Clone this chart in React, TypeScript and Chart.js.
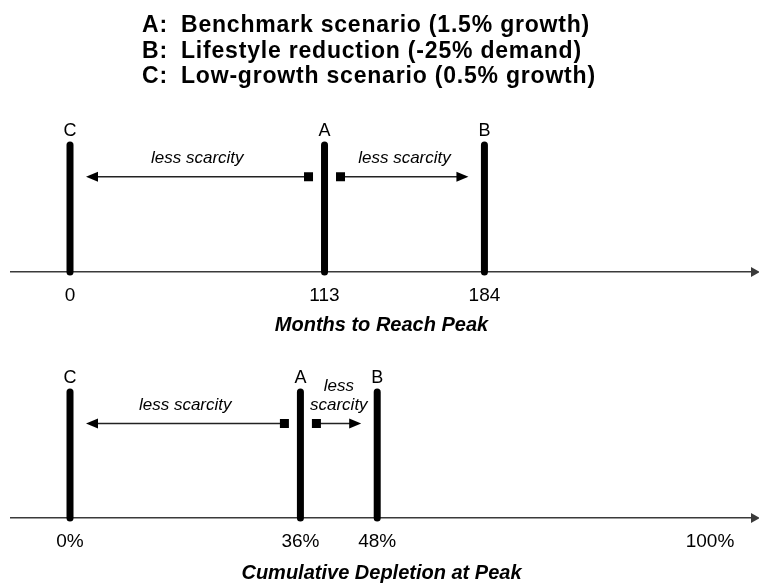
import React, { useEffect, useRef } from 'react';
import { Chart, registerables } from 'chart.js';

Chart.register(...registerables);

// ---------- data ----------
const scenarioLetters = ['C', 'A', 'B'];
const monthsToPeak = [0, 113, 184];
const depletionAtPeak = [0, 36, 48];
const monthsTickValues = [0, 113, 184];
const monthsTickLabels = ['0', '113', '184'];
const depletionTickValues = [0, 36, 48, 100];
const depletionTickLabels = ['0%', '36%', '48%', '100%'];
const legendKeys = ['A:', 'B:', 'C:'];
const legendTexts = [
  'Benchmark scenario (1.5% growth)',
  'Lifestyle reduction (-25% demand)',
  'Low-growth scenario (0.5% growth)',
];
const arrowFrom = 'A';
const arrowTargets = ['C', 'B'];
const arrowText = 'less scarcity';
const monthsTitle = 'Months to Reach Peak';
const depletionTitle = 'Cumulative Depletion at Peak';

// ---------- style ----------
const FONT = '"Liberation Sans", Arial, Helvetica, sans-serif';
const AXIS_COLOR = '#3a3a3a';
const W = 759;

type PanelCfg = {
  values: number[];
  tickValues: number[];
  tickLabels: string[];
  title: string;
  top: number;
  height: number;
  padTop: number;
  axisHeight: number;
  xMin: number;
  xMax: number;
  tickPadding: number;
  titlePadBottom: number;
  header: boolean;
};

const panels: PanelCfg[] = [
  {
    values: monthsToPeak,
    tickValues: monthsTickValues,
    tickLabels: monthsTickLabels,
    title: monthsTitle,
    top: 0,
    height: 335,
    padTop: 145,
    axisHeight: 63,
    xMin: -26.2,
    xMax: 302.8,
    tickPadding: 12,
    titlePadBottom: 0,
    header: true,
  },
  {
    values: depletionAtPeak,
    tickValues: depletionTickValues,
    tickLabels: depletionTickLabels,
    title: depletionTitle,
    top: 335,
    height: 250,
    padTop: 57,
    axisHeight: 67,
    xMin: -9.22,
    xMax: 106.56,
    tickPadding: 12,
    titlePadBottom: 2,
    header: false,
  },
];

function makePlugin(cfg: PanelCfg) {
  return {
    id: 'schematicOverlay',
    afterDatasetsDraw(chart: any) {
      const ctx: CanvasRenderingContext2D = chart.ctx;
      const xs = chart.scales.x;
      const ys = chart.scales.y;
      const area = chart.chartArea;
      ctx.save();

      // arrowhead at the right end of the axis
      const ay = area.bottom;
      ctx.fillStyle = AXIS_COLOR;
      ctx.beginPath();
      ctx.moveTo(area.right - 1, ay - 5);
      ctx.lineTo(area.right + 8, ay);
      ctx.lineTo(area.right - 1, ay + 5);
      ctx.closePath();
      ctx.fill();

      // scenario letters above bars
      ctx.fillStyle = '#000';
      ctx.font = `18px ${FONT}`;
      ctx.textAlign = 'center';
      ctx.textBaseline = 'alphabetic';
      cfg.values.forEach((v, i) => {
        ctx.fillText(scenarioLetters[i], xs.getPixelForValue(v), area.top - 9);
      });

      // "less scarcity" arrows
      const arrowY = ys.getPixelForValue(0.75);
      const fromPx = xs.getPixelForValue(cfg.values[scenarioLetters.indexOf(arrowFrom)]);
      arrowTargets.forEach((t) => {
        const toPx = xs.getPixelForValue(cfg.values[scenarioLetters.indexOf(t)]);
        const dir = Math.sign(toPx - fromPx);
        const start = fromPx + dir * 16;
        const tip = toPx - dir * 16;
        ctx.strokeStyle = '#222';
        ctx.lineWidth = 1.5;
        ctx.beginPath();
        ctx.moveTo(start, arrowY);
        ctx.lineTo(tip - dir * 10, arrowY);
        ctx.stroke();
        ctx.fillStyle = '#000';
        ctx.fillRect(start - 4.5, arrowY - 4.5, 9, 9);
        ctx.beginPath();
        ctx.moveTo(tip, arrowY);
        ctx.lineTo(tip - dir * 12, arrowY - 5);
        ctx.lineTo(tip - dir * 12, arrowY + 5);
        ctx.closePath();
        ctx.fill();

        ctx.font = `italic 17px ${FONT}`;
        const mid = (start + tip) / 2;
        const avail = Math.abs(tip - start);
        const lines = ctx.measureText(arrowText).width > avail ? arrowText.split(' ') : [arrowText];
        lines.forEach((ln, k) => {
          ctx.fillText(ln, mid, arrowY - 14 - (lines.length - 1 - k) * 19);
        });
      });

      // header legend
      if (cfg.header) {
        ctx.textAlign = 'left';
        ctx.font = `bold 23px ${FONT}`;
        (ctx as any).letterSpacing = '0.8px';
        const baselines = [32, 57.5, 83];
        legendKeys.forEach((k, i) => {
          ctx.fillText(k, 142, baselines[i]);
          ctx.fillText(legendTexts[i], 181, baselines[i]);
        });
        (ctx as any).letterSpacing = '0px';
      }
      ctx.restore();
    },
  };
}

function Panel({ cfg }: { cfg: PanelCfg }) {
  const ref = useRef<HTMLCanvasElement | null>(null);
  useEffect(() => {
    if (!ref.current) return;
    const chart = new Chart(ref.current, {
      type: 'line',
      data: {
        datasets: scenarioLetters.map((s, i) => ({
          label: s,
          data: [
            { x: cfg.values[i], y: 0 },
            { x: cfg.values[i], y: 1 },
          ],
          borderColor: '#000',
          backgroundColor: '#000',
          borderWidth: 7,
          borderCapStyle: 'round',
          pointRadius: 0,
          pointHoverRadius: 0,
          fill: false,
          clip: false,
        })) as any,
      },
      options: {
        animation: false,
        responsive: false,
        devicePixelRatio: 1,
        events: [],
        layout: { padding: { top: cfg.padTop, bottom: 0, left: 11, right: 7 } },
        plugins: {
          legend: { display: false },
          tooltip: { enabled: false },
          title: { display: false },
        },
        scales: {
          x: {
            type: 'linear',
            position: 'bottom',
            min: cfg.xMin,
            max: cfg.xMax,
            grid: { display: false, drawTicks: false },
            border: { display: true, color: AXIS_COLOR, width: 1.5 },
            afterBuildTicks: (axis: any) => {
              axis.ticks = cfg.tickValues.map((v) => ({ value: v }));
            },
            afterFit: (axis: any) => {
              axis.height = cfg.axisHeight;
            },
            ticks: {
              autoSkip: false,
              maxRotation: 0,
              padding: cfg.tickPadding,
              color: '#000',
              font: { family: FONT, size: 19 },
              callback: (value: any) => {
                const idx = cfg.tickValues.indexOf(Number(value));
                return idx >= 0 ? cfg.tickLabels[idx] : '';
              },
            },
            title: {
              display: true,
              text: cfg.title,
              color: '#000',
              font: { family: FONT, size: 20, weight: 'bold', style: 'italic', lineHeight: 1 },
              padding: { top: 0, bottom: cfg.titlePadBottom },
            },
          },
          y: { display: false, min: 0, max: 1 },
        },
      } as any,
      plugins: [makePlugin(cfg)],
    });
    return () => chart.destroy();
  }, [cfg]);
  return (
    <canvas
      ref={ref}
      width={W}
      height={cfg.height}
      style={{ position: 'absolute', left: 0, top: cfg.top, width: W, height: cfg.height }}
    />
  );
}

export default function App() {
  return (
    <div style={{ position: 'fixed', left: 0, top: 0, width: W, height: 585, background: '#fff' }}>
      {panels.map((p, i) => (
        <Panel key={i} cfg={p} />
      ))}
    </div>
  );
}
